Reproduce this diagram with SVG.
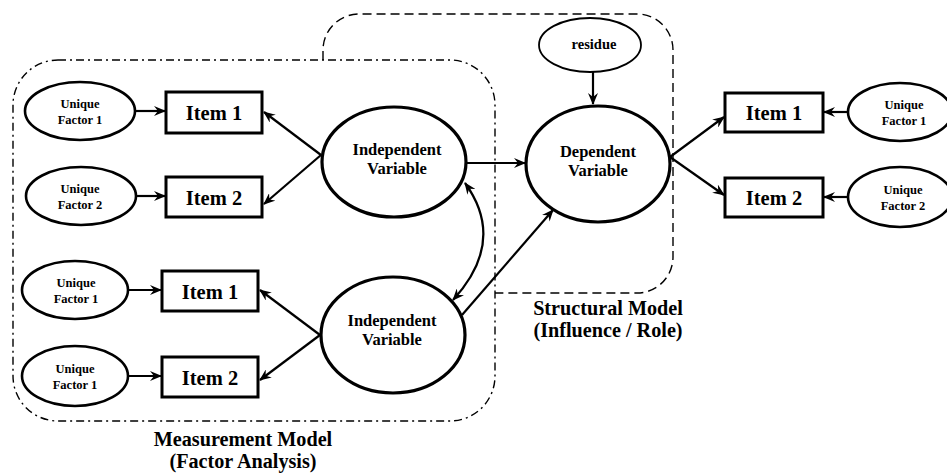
<svg xmlns="http://www.w3.org/2000/svg" width="947" height="475" viewBox="0 0 947 475">
<defs>
<marker id="ah" viewBox="0 0 12 10" refX="11" refY="5" markerWidth="12" markerHeight="10" markerUnits="userSpaceOnUse" orient="auto-start-reverse">
<path d="M0,0 L12,5 L0,10 L4,5 Z" fill="#000"/>
</marker>
</defs>
<style>
text{font-family:'Liberation Serif','Times New Roman',serif;font-weight:bold;fill:#000;text-anchor:middle}
.big{fill:#fff;stroke:#000;stroke-width:3.2}
.small{fill:#fff;stroke:#000;stroke-width:2.6}
.box{fill:#fff;stroke:#000;stroke-width:3}
.uf{font-size:12.5px}
.item{font-size:20.5px}
.lv{font-size:16.5px}
.lbl{font-size:20.2px}
.c{fill:none;stroke:#000;stroke-width:2.2;marker-end:url(#ah)}
.frame1{fill:none;stroke:#000;stroke-width:1.4;stroke-dasharray:8 4 2 4}
.frame2{fill:none;stroke:#000;stroke-width:1.4;stroke-dasharray:9 5}
</style>
<g id="frames">
<rect class="frame1" x="13" y="60" width="482" height="361" rx="45" ry="45"/>
<path class="frame2" d="M323,60 V50 A36,36 0 0 1 359,14 H637 A36,36 0 0 1 673,50 V257 A36,36 0 0 1 637,293 H495"/>
</g>
<g id="connectors">
<line class="c" x1="135" y1="111" x2="165" y2="111"/>
<line class="c" x1="136" y1="196" x2="165" y2="196"/>
<line class="c" x1="128" y1="290" x2="161" y2="290"/>
<line class="c" x1="128" y1="376" x2="161" y2="376"/>
<line class="c" x1="321" y1="155" x2="264" y2="112"/>
<line class="c" x1="321" y1="155" x2="264" y2="204"/>
<line class="c" x1="320" y1="335" x2="260" y2="290"/>
<line class="c" x1="320" y1="335" x2="260" y2="380"/>
<line class="c" x1="467" y1="163" x2="525" y2="163"/>
<line class="c" x1="462" y1="315" x2="553" y2="210"/>
<path class="c" d="M465,183 Q507,241 453,300" style="marker-start:url(#ah)"/>
<line class="c" x1="593" y1="72" x2="593" y2="104"/>
<line class="c" x1="670" y1="157" x2="724" y2="117"/>
<line class="c" x1="670" y1="157" x2="724" y2="195"/>
<line class="c" x1="849" y1="112" x2="824" y2="112"/>
<line class="c" x1="849" y1="197" x2="824" y2="197"/>
</g>
<g id="uf-l1"><ellipse class="small" cx="80" cy="111" rx="55" ry="29"/><text class="uf" x="80" y="108">Unique</text><text class="uf" x="80" y="124">Factor 1</text></g>
<g id="uf-l2"><ellipse class="small" cx="81" cy="196" rx="55" ry="29"/><text class="uf" x="80" y="193">Unique</text><text class="uf" x="80" y="209">Factor 2</text></g>
<g id="uf-l3"><ellipse class="small" cx="75" cy="290" rx="53" ry="29"/><text class="uf" x="76" y="287">Unique</text><text class="uf" x="76" y="303">Factor 1</text></g>
<g id="uf-l4"><ellipse class="small" cx="75" cy="376" rx="53" ry="30"/><text class="uf" x="75" y="373">Unique</text><text class="uf" x="75" y="389">Factor 1</text></g>
<g id="item-l1"><rect class="box" x="166" y="92" width="96" height="41"/><text class="item" x="214" y="120">Item 1</text></g>
<g id="item-l2"><rect class="box" x="166" y="177" width="96" height="40"/><text class="item" x="214" y="205">Item 2</text></g>
<g id="item-l3"><rect class="box" x="162" y="271" width="96" height="40"/><text class="item" x="210" y="299">Item 1</text></g>
<g id="item-l4"><rect class="box" x="162" y="357" width="96" height="40"/><text class="item" x="210" y="385">Item 2</text></g>
<g id="iv1"><ellipse class="big" cx="394" cy="162" rx="72" ry="55"/><text class="lv" x="397" y="155">Independent</text><text class="lv" x="397" y="174">Variable</text></g>
<g id="iv2"><ellipse class="big" cx="393" cy="335" rx="72" ry="58"/><text class="lv" x="392" y="326">Independent</text><text class="lv" x="392" y="345">Variable</text></g>
<g id="dv"><ellipse class="big" cx="598" cy="164" rx="72" ry="58"/><text class="lv" x="598" y="157">Dependent</text><text class="lv" x="598" y="176">Variable</text></g>
<g id="residue"><ellipse class="small" cx="590" cy="45" rx="51" ry="27" style="stroke-width:1.8"/><text class="uf" x="594" y="49" style="font-size:14.5px">residue</text></g>
<g id="item-r1"><rect class="box" x="725" y="93" width="98" height="39"/><text class="item" x="774" y="120">Item 1</text></g>
<g id="item-r2"><rect class="box" x="725" y="178" width="98" height="39"/><text class="item" x="774" y="205">Item 2</text></g>
<g id="uf-r1"><ellipse class="small" cx="900" cy="112" rx="52" ry="29"/><text class="uf" x="904" y="109">Unique</text><text class="uf" x="904" y="125">Factor 1</text></g>
<g id="uf-r2"><ellipse class="small" cx="900" cy="197" rx="52" ry="30"/><text class="uf" x="903" y="194">Unique</text><text class="uf" x="903" y="210">Factor 2</text></g>
<g id="labels">
<text class="lbl" x="608" y="314.5">Structural Model</text>
<text class="lbl" x="608" y="337">(Influence / Role)</text>
<text class="lbl" x="243" y="445.5">Measurement Model</text>
<text class="lbl" x="243" y="468">(Factor Analysis)</text>
</g>
</svg>
